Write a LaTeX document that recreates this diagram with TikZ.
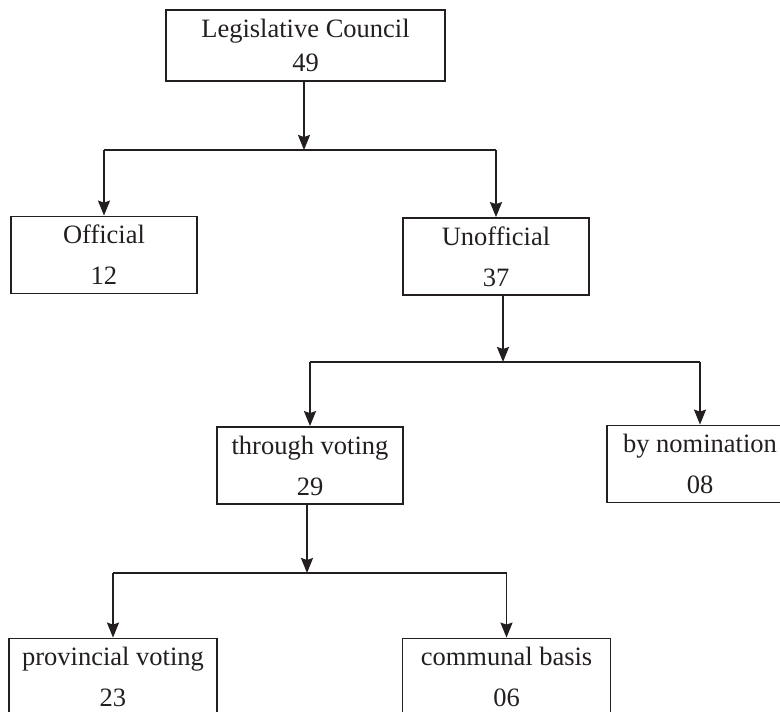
\documentclass[tikz,border=0pt]{standalone}
\usepackage{fontspec}
\setmainfont{Liberation Serif}
\usetikzlibrary{arrows.meta,positioning}
\definecolor{ink}{HTML}{231F20}

\begin{document}
\begin{tikzpicture}[
  x=1pt, y=-1pt,
  >={Stealth[length=15pt,width=12pt,inset=2pt]},
  box/.style   = {
    draw=ink, text=ink,
    line width=1.8pt,
    align=center,
    inner sep=0pt,
    minimum width=\boxw,
    minimum height=\boxh,
    font=\fontsize{26.5}{41}\selectfont
  },
  wide/.style  = {box, minimum width=\widew},
  link/.style  = {draw=ink, line width=1.8pt}
]

% ---- constants ----
\def\boxw{186pt}     % width of most boxes
\def\widew{208pt}    % width of the bottom boxes
\def\boxh{77pt}      % height of every box

% ---- frame ----
\useasboundingbox (0,0) rectangle (780,712);

% ---- nodes ----
\node[box, minimum width=279pt, minimum height=71pt,
      font=\fontsize{26.5}{34}\selectfont] (lc) at (305.5,45.5)
  {Legislative Council\\49};

\node[box] (off)   at (104,255)   {Official\\12};
\node[box] (unoff) at (496,256.5) {Unofficial\\37};

\node[box] (vote)  at (310,465.5) {through voting\\29};
\node[box] (nom)   at (700,464)   {by nomination\\08};

\node[wide] (prov) at (113,677)   {provincial voting\\23};
\node[wide] (comm) at (506.5,677) {communal basis\\06};

% ---- junctions ----
\coordinate (j1) at (304,150);
\coordinate (j2) at (503,362);
\coordinate (j3) at (307,573);

% ---- arrows ----
\draw[link,->] (lc.south -| j1) -- (j1);
\draw[link] (off |- j1) -- (unoff |- j1);
\draw[link,->] (off |- j1) -- (off);
\draw[link,->] (unoff |- j1) -- (unoff);

\draw[link,->] (unoff.south -| j2) -- (j2);
\draw[link] (vote |- j2) -- (nom |- j2);
\draw[link,->] (vote |- j2) -- (vote);
\draw[link,->] (nom |- j2) -- (nom);

\draw[link,->] (vote.south -| j3) -- (j3);
\draw[link] (prov |- j3) -- (comm |- j3);
\draw[link,->] (prov |- j3) -- (prov);
\draw[link,->] (comm |- j3) -- (comm);

\end{tikzpicture}
\end{document}
